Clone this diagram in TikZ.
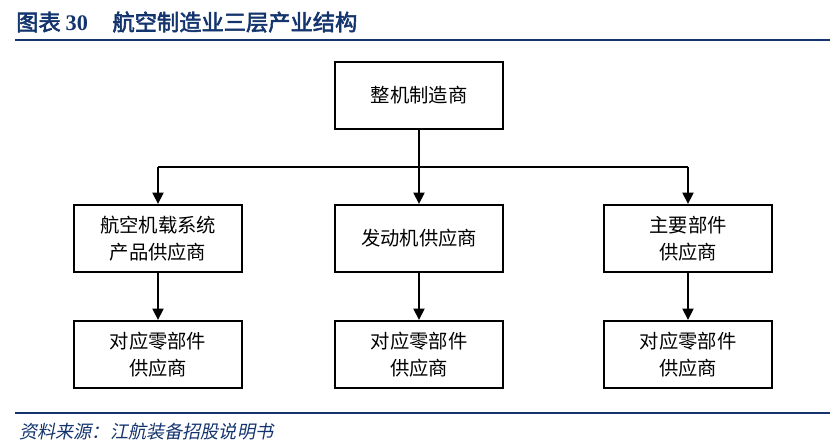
\documentclass[tikz,border=0pt]{standalone}
\usepackage{fontspec}
\usepackage{xcolor}
\usetikzlibrary{arrows.meta, positioning}
\newfontfamily\cjk[AutoFakeBold=2.5,AutoFakeSlant=0.2]{Noto Sans CJK SC}
\newfontfamily\numfont{Liberation Serif}
\definecolor{titleblue}{RGB}{20,52,110}
\tikzset{
    box/.style={draw, line width=2.1pt, minimum width=5.05cm, minimum height=2.0cm,
        inner sep=0pt, align=center, font=\cjk\fontsize{16.5}{23}\selectfont},
    link/.style={line width=1.8pt},
    arrow/.style={line width=1.8pt, -{Triangle[length=0.34cm, width=0.33cm]}}
}

\begin{document}
\begin{tikzpicture}[x=0.03cm, y=-0.03cm]
        \useasboundingbox (0,0) rectangle (837,448);

        % Title and rules
        \node[anchor=west, inner sep=0pt, text=titleblue, font=\cjk\bfseries\fontsize{19}{22}\selectfont] (title) at (16,22)
            {图表 {\numfont\bfseries 30}\hspace{1.1em}航空制造业三层产业结构};
        \draw[titleblue, line width=1.6pt] (15,40) coordinate (ruleA) -- (830,40) coordinate (ruleB);
        \draw[titleblue, line width=1.6pt] (15,413) coordinate (ruleC) -- (830,413) coordinate (ruleD);
        \node[anchor=west, inner sep=0pt, text=titleblue, font=\cjk\itshape\fontsize{15.5}{18}\selectfont] (source) at (19,432)
            {资料来源：江航装备招股说明书};

        % Boxes
        \node[box] (top) at (419,95.5) {整机制造商};
        \node[box] (mid1) at (158,238.5) {航空机载系统\\产品供应商};
        \node[box] (mid2) at (419,238.5) {发动机供应商};
        \node[box] (mid3) at (688,238.5) {主要部件\\供应商};
        \node[box] (bot1) at (158,354.5) {对应零部件\\供应商};
        \node[box] (bot2) at (419,354.5) {对应零部件\\供应商};
        \node[box] (bot3) at (688,354.5) {对应零部件\\供应商};

        % Connectors
        \coordinate (bus) at (419,167);
        \draw[link] (top.south) -- (bus);
        \draw[link] (bus -| mid1.north) -- (bus -| mid3.north);
        \foreach \n in {mid1, mid2, mid3} {
            \draw[arrow] (bus -| \n.north) -- (\n.north);
        }
        \foreach \a/\b in {mid1/bot1, mid2/bot2, mid3/bot3} {
            \draw[arrow] (\a.south) -- (\b.north);
        }
    \end{tikzpicture}
\end{document}
